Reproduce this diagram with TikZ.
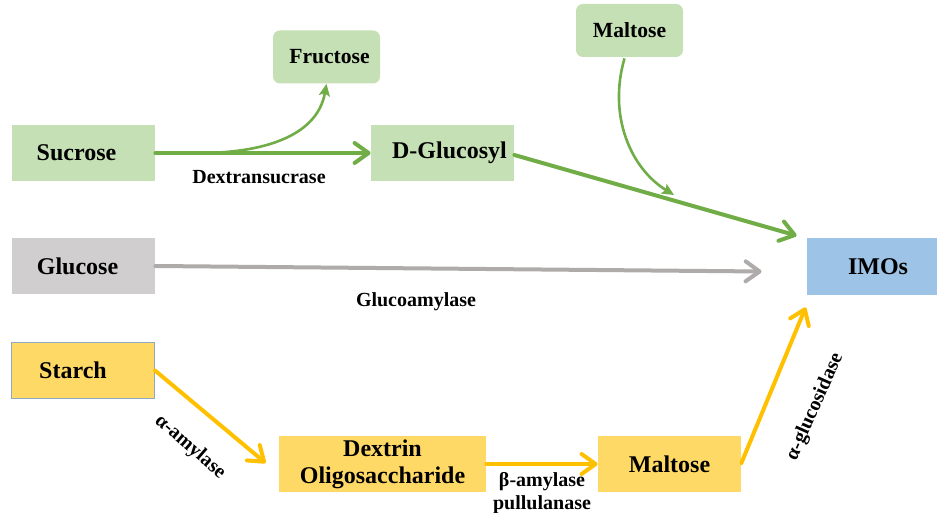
\documentclass[tikz,border=0pt]{standalone}
\usepackage{fontspec}
\setmainfont{Liberation Serif}
\usetikzlibrary{arrows.meta,calc}

\definecolor{greenfill}{HTML}{C5E0B4}
\definecolor{greenline}{HTML}{70AD47}
\definecolor{grayfill}{HTML}{D0CECE}
\definecolor{grayline}{HTML}{AFABAB}
\definecolor{yellowfill}{HTML}{FFD966}
\definecolor{yellowline}{HTML}{FFC000}
\definecolor{bluefill}{HTML}{9DC3E6}
\definecolor{starchborder}{HTML}{8FA9C4}

% a leading kern moves a box label sideways by half its amount
\newcommand{\nudge}[1]{\hspace*{#1}}

\begin{document}
\begin{tikzpicture}[x=0.5pt,y=-0.5pt,
  box/.style={inner sep=0pt, align=center, font=\bfseries\fontsize{12}{13.5}\selectfont},
  greenbox/.style={box, fill=greenfill, minimum width=71.5pt, minimum height=28pt},
  greenround/.style={box, fill=greenfill, rounded corners=3.5pt, minimum width=53.5pt,
    minimum height=26.5pt, font=\bfseries\fontsize{10.8}{12}\selectfont},
  graybox/.style={box, fill=grayfill, minimum width=71.5pt, minimum height=28pt},
  yellowbox/.style={box, fill=yellowfill, minimum width=71.5pt, minimum height=28pt},
  bluebox/.style={box, fill=bluefill, minimum width=65pt, minimum height=28.5pt},
  enzyme/.style={inner sep=0pt, align=center, font=\bfseries\fontsize{10}{11.5}\selectfont},
  chevron/.style={line width=2pt, line cap=round,
    -{Straight Barb[length=7pt, width=10pt, round]}},
  thincurve/.style={line width=1.3pt,
    -{Stealth[length=6pt, width=5.5pt, inset=1.2pt]}},
]
\useasboundingbox (0,0) rectangle (937,513);

% substrates and products
\node[greenbox] (sucrose) at (83.5,153) {\nudge{-7pt}Sucrose};
\node[greenround] (fructose) at (326.5,57) {\nudge{3pt}Fructose};
\node[greenbox] (glucosyl) at (442.5,153) {\nudge{7pt}D-Glucosyl};
\node[greenround] (maltop) at (629.5,30.5) {Maltose};
\node[bluebox] (imos) at (872,266.5) {\nudge{6pt}IMOs};
\node[graybox] (glucose) at (83.5,266) {\nudge{-6pt}Glucose};
\node[yellowbox, draw=starchborder, line width=0.5pt] (starch) at (83,370.5) {\nudge{-10pt}Starch};
\node[yellowbox, minimum width=103.5pt] (dextrin) at (382.5,464) {Dextrin\\Oligosaccharide};
\node[yellowbox] (maltbot) at (669.5,464) {Maltose};

% free arrow ends
\coordinate (fork) at ($(sucrose.east)!0.21!(glucosyl.west)$);
\coordinate (glucosylend) at ([shift={(-10,-2)}]imos.north west);
\coordinate (maltstart) at ([shift={(-5,1)}]maltop.south);
\coordinate (malttip) at (674,195);
\coordinate (glucoseend) at ([shift={(-45,5)}]imos.west);
\coordinate (starchend) at ([shift={(-13,-1)}]dextrin.west);
\coordinate (maltend) at ([shift={(-1,12)}]imos.south west);

% sucrose route
\draw[greenline, chevron] (sucrose.east) -- (glucosyl.west);
\draw[greenline, thincurve] (fork) to[out=0, in=-100] (fructose.south);
\draw[greenline, chevron] ([yshift=-1pt]glucosyl.east) -- (glucosylend);
\draw[greenline, thincurve] (maltstart) .. controls (608,115) and (630,168) .. (malttip);
\node[enzyme] (dextransucrase) at (259,177) {Dextransucrase};

% glucose route
\draw[grayline, chevron] (glucose.east) -- (glucoseend);
\node[enzyme] (glucoamylase) at (416,302) {Glucoamylase};

% starch route
\draw[yellowline, chevron] (starch.east) -- (starchend);
\draw[yellowline, chevron] (dextrin.east) -- (maltbot.west);
\draw[yellowline, chevron] ([yshift=0.5pt]maltbot.east) -- (maltend);
\node[enzyme, rotate=-41] (amylase) at (190,447) {α-amylase};
\node[enzyme] (betaamylase) at (542,493) {β-amylase\\pullulanase};
\node[enzyme, rotate=66] (glucosidase) at (815,407) {α-glucosidase};
\end{tikzpicture}
\end{document}
